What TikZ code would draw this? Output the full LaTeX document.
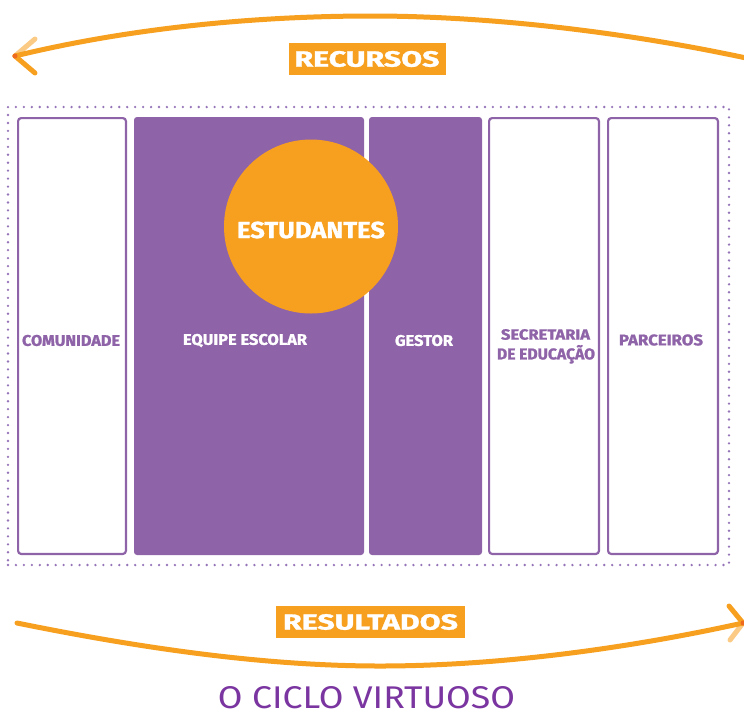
\documentclass[tikz,border=0pt]{standalone}
\usepackage{fontspec}
\setmainfont{Fira Sans}[BoldFeatures={FakeBold=1.2}]
\usepackage{graphicx}
\usetikzlibrary{calc}
\definecolor{orng}{HTML}{F79F1F}
\definecolor{purp}{HTML}{8E63A8}
\definecolor{dotp}{HTML}{9575B8}
\definecolor{titlep}{HTML}{7A35A0}
\definecolor{tipc}{HTML}{EE6A1E}
\newcommand{\fitbox}[3]{\resizebox{#1}{#2}{#3}}
\begin{document}
\begin{tikzpicture}[x=1pt,y=-1pt,
  wbox/.style={draw=purp, line width=2.2pt, fill=white, rounded corners=3pt, inner sep=0pt, minimum height=435.8pt},
  pbox/.style={fill=purp, rounded corners=3pt, inner sep=0pt, minimum height=438pt},
  lbl/.style={inner sep=0pt, font=\bfseries},
  tag/.style={fill=orng, inner sep=0pt, text=white, font=\bfseries},
  arc/.style={draw=orng, line width=5pt, line cap=round},
  arm/.style={draw=orng, line width=5pt, line cap=round},
  armlight/.style={draw=orng, line width=5pt, line cap=round, opacity=0.55}
]
\useasboundingbox (0,0) rectangle (744,716);
% dotted frame
\node[draw=dotp, line width=2.6pt, dash pattern=on 0pt off 7.95pt, line cap=round,
      minimum width=721pt, minimum height=458pt, inner sep=0pt] (frame) at (368.5,336) {};
% boxes
\node[wbox, minimum width=107.8pt] (b1) at (72,336) {};
\node[pbox, minimum width=230pt] (b2) at (249,336) {};
\node[pbox, minimum width=113pt] (b3) at (425.5,336) {};
\node[wbox, minimum width=109.8pt] (b4) at (544,336) {};
\node[wbox, minimum width=109.8pt] (b5) at (663,336) {};
% labels
\node[lbl, text=purp] (t1) at (71,340.5) {\fitbox{98pt}{11pt}{COMUNIDADE}};
\node[lbl, text=white] (t2) at (245,340.5) {\fitbox{124pt}{11pt}{EQUIPE ESCOLAR}};
\node[lbl, text=white] (t3) at (424,340.5) {\fitbox{58pt}{11pt}{GESTOR}};
\node[lbl, text=purp] (t4a) at (545.5,334.5) {\fitbox{89pt}{10.5pt}{SECRETARIA}};
\node[lbl, text=purp, anchor=north] (t4b) at (546,344.8) {\fitbox{98pt}{!}{DE EDUCAÇÃO}};
\node[lbl, text=purp] (t5) at (661,340) {\fitbox{84pt}{11pt}{PARCEIROS}};
% circle
\node[circle, fill=orng, minimum size=174pt, inner sep=0pt] (stu) at (311,226.5) {};
\node[lbl, text=white] (tstu) at (311,230) {\fitbox{148pt}{16.5pt}{ESTUDANTES}};
% tags
\node[tag, minimum width=157pt, minimum height=32pt] (rec) at (367,59) {\fitbox{145pt}{15.7pt}{RECURSOS}};
\node[tag, minimum width=189pt, minimum height=32pt] (res) at (370.5,622) {\fitbox{175pt}{15.5pt}{RESULTADOS}};
% title
\node[inner sep=0pt, text=titlep] (title) at (366.5,698) {\fitbox{297pt}{22pt}{O CICLO VIRTUOSO}};
% top arc with arrow to the left
\coordinate (tl) at (15,56);
\coordinate (tr) at (760,61);
\coordinate (tlu) at (35,39);
\coordinate (tld) at (35,73);
\draw[arc] (tr) .. controls (620,30) and (480,16) .. (372,16) .. controls (255,16) and (130,28) .. (tl);
\draw[armlight] (tl) -- (tlu);
\draw[arm] (tl) -- (tld);
\fill[tipc] (tl) circle (2.5pt);
% bottom arc with arrow to the right
\coordinate (bl) at (17,623);
\coordinate (br) at (743,623);
\coordinate (bru) at (729,606);
\coordinate (brd) at (730,640);
\draw[arc] (bl) .. controls (150,650) and (270,666) .. (380,666) .. controls (500,666) and (630,648) .. (br);
\draw[arm] (br) -- (bru);
\draw[armlight] (br) -- (brd);
\fill[tipc] (br) circle (2.5pt);
\end{tikzpicture}
\end{document}
